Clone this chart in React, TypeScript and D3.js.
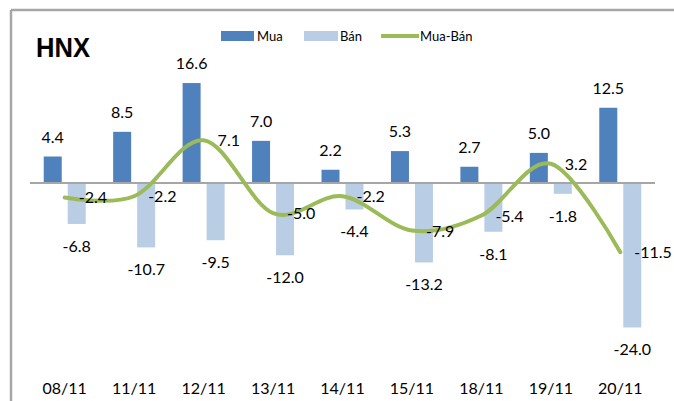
import React from "react";
import * as d3 from "d3";

const categories = ["08/11", "11/11", "12/11", "13/11", "14/11", "15/11", "18/11", "19/11", "20/11"];
const muaValues = [4.4, 8.5, 16.6, 7.0, 2.2, 5.3, 2.7, 5.0, 12.5];
const banValues = [-6.8, -10.7, -9.5, -12.0, -4.4, -13.2, -8.1, -1.8, -24.0];
const netValues = [-2.4, -2.2, 7.1, -5.0, -2.2, -7.9, -5.4, 3.2, -11.5];
const seriesNames = ["Mua", "Bán", "Mua-Bán"];
const title = "HNX";

const W = 674;
const H = 401;
const C_MUA = "#4F81BD";
const C_BAN = "#B9CDE5";
const C_NET = "#9BBB59";
const FONT = "Lato, 'Open Sans', sans-serif";

export default function App() {
  const x = d3.scaleBand<string>().domain(categories).range([30, 655]).paddingInner(0).paddingOuter(0);
  const sub = d3.scaleBand<string>().domain(["Mua", "Bán"]).range([-21, 21]).paddingInner(0.25);
  const y = d3.scaleLinear().domain([-30, 20]).range([183 + 30 * 6.02, 183 - 20 * 6.02]);
  const cx = (c: string) => (x(c) as number) + x.bandwidth() / 2;

  const line = d3
    .line<number>()
    .x((_, i) => cx(categories[i]))
    .y((d) => y(d))
    .curve(d3.curveCardinal.tension(0));

  const fmt = (v: number) => d3.format(".1f")(v).replace("\u2212", "-");

  return (
    <svg
      width={W}
      height={H}
      style={{ position: "absolute", left: 0, top: 0, background: "#fff" }}
      fontFamily={FONT}
    >
      <rect x={0} y={0} width={W} height={H} fill="#fff" />
      {/* frame */}
      <line x1={11} y1={10} x2={W} y2={10} stroke="#A6A6A6" strokeWidth={2.5} />
      <line x1={11} y1={10} x2={11} y2={H} stroke="#A6A6A6" strokeWidth={2.5} />

      {/* title */}
      <text
        x={36}
        y={57}
        fontFamily="'Liberation Sans', Arial, sans-serif"
        fontWeight="bold"
        fontSize={28}
        textLength={54}
        lengthAdjust="spacingAndGlyphs"
        fill="#000"
      >
        {title}
      </text>

      {/* legend */}
      <g fontSize={13} fill="#000">
        <rect x={221} y={31} width={33} height={10} fill={C_MUA} />
        <text x={257} y={40.5}>{seriesNames[0]}</text>
        <rect x={304} y={31} width={34} height={10} fill={C_BAN} />
        <text x={340} y={40.5}>{seriesNames[1]}</text>
        <line x1={381} y1={36} x2={419} y2={36} stroke={C_NET} strokeWidth={4} />
        <text x={420} y={40.5}>{seriesNames[2]}</text>
      </g>

      {/* bars */}
      {categories.map((c, i) => (
        <g key={c}>
          <rect
            x={cx(c) + (sub("Mua") as number)}
            y={y(muaValues[i])}
            width={sub.bandwidth()}
            height={y(0) - y(muaValues[i])}
            fill={C_MUA}
          />
          <rect
            x={cx(c) + (sub("Bán") as number)}
            y={y(0)}
            width={sub.bandwidth()}
            height={y(banValues[i]) - y(0)}
            fill={C_BAN}
          />
        </g>
      ))}

      {/* zero axis */}
      <line x1={30} y1={y(0)} x2={655} y2={y(0)} stroke="#A6A6A6" strokeWidth={2} />

      {/* net line */}
      <path d={line(netValues) as string} fill="none" stroke={C_NET} strokeWidth={4} strokeLinecap="round" />

      {/* labels */}
      <g fontSize={16} fill="#000" textAnchor="middle">
        {categories.map((c, i) => (
          <g key={c}>
            <text x={cx(c) + (sub("Mua") as number) + sub.bandwidth() / 2} y={y(muaValues[i]) - 14}>
              {fmt(muaValues[i])}
            </text>
            <text x={cx(c) + (sub("Bán") as number) + sub.bandwidth() / 2} y={y(banValues[i]) + 28}>
              {fmt(banValues[i])}
            </text>
            <text x={cx(c) + 14} y={y(netValues[i]) + 6} textAnchor="start">
              {fmt(netValues[i])}
            </text>
            <text x={cx(c)} y={394}>
              {c}
            </text>
          </g>
        ))}
      </g>
    </svg>
  );
}
